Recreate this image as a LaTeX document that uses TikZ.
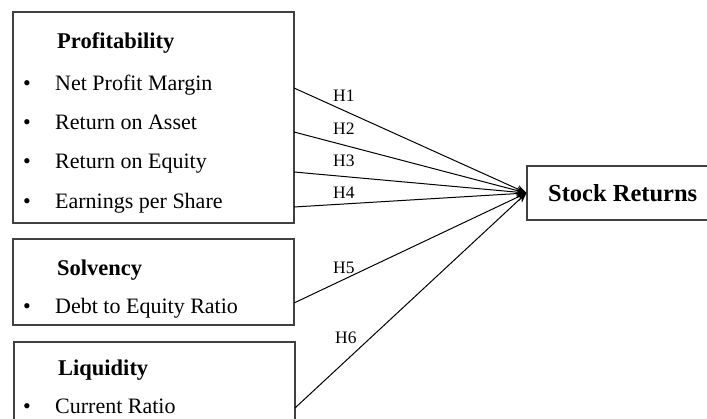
\documentclass[tikz,border=0pt]{standalone}
\usepackage{fontspec}
\setmainfont{Liberation Serif}
\usetikzlibrary{arrows.meta}

\begin{document}
\begin{tikzpicture}[x=1pt,y=-1pt]
    \useasboundingbox (0,0) rectangle (707,419);

    \tikzset{box/.style={draw=black!75,line width=1.1pt,inner sep=0pt},
      head/.style={anchor=base west,inner sep=0pt,font=\fontsize{22.5}{27}\selectfont\bfseries},
      item/.style={anchor=base west,inner sep=0pt,font=\fontsize{22}{26}\selectfont},
      dot/.style={anchor=base,inner sep=0pt,font=\fontsize{22}{26}\selectfont},
      hlab/.style={anchor=base west,inner sep=0pt,font=\fontsize{17.5}{20}\selectfont},
      link/.style={line width=1pt,-{Stealth[length=10pt,width=8pt]}}}

    % boxes
    \node[box,minimum width=281pt,minimum height=211pt](prof) at (153.5,117.5){};
    \node[box,minimum width=281pt,minimum height=86pt](solv) at (153.5,282){};
    \node[box,minimum width=281pt,minimum height=110pt](liq) at (154.5,397){};
    \node[box,minimum width=187pt,minimum height=54pt](stock) at (620.5,193){};

    % texts
    \node[head](t0) at (57,49){Profitability};
    \node[dot](b1) at (27,91){•};
    \node[item](t1) at (55,91){Net Profit Margin};
    \node[dot](b2) at (27,130){•};
    \node[item](t2) at (55,130){Return on Asset};
    \node[dot](b3) at (27,169){•};
    \node[item](t3) at (55,169){Return on Equity};
    \node[dot](b4) at (27,209){•};
    \node[item](t4) at (55,209){Earnings per Share};

    \node[head](s0) at (57,276){Solvency};
    \node[dot](b5) at (27,314){•};
    \node[item](s1) at (55,314){Debt to Equity Ratio};

    \node[head](l0) at (58,376){Liquidity};
    \node[dot](b6) at (27,413.5){•};
    \node[item](l1) at (55,413.5){Current Ratio};

    \node[head,font=\fontsize{24.5}{29}\selectfont\bfseries](st) at (548,202){Stock Returns};

    % line ends on the box sides
    \coordinate (p1) at (294,88);
    \coordinate (p2) at (294,132);
    \coordinate (p3) at (294,172);
    \coordinate (p4) at (294,207);
    \coordinate (p5) at (294,303);
    \coordinate (p6) at (295,408);

    \draw[link](p1)--(stock.west);
    \draw[link](p2)--(stock.west);
    \draw[link](p3)--(stock.west);
    \draw[link](p4)--(stock.west);
    \draw[link](p5)--(stock.west);
    \draw[link](p6)--(stock.west);

    \node[hlab](h1) at (333,101.5){H1};
    \node[hlab](h2) at (333,135){H2};
    \node[hlab](h3) at (333,166.5){H3};
    \node[hlab](h4) at (333,199){H4};
    \node[hlab](h5) at (333,274){H5};
    \node[hlab](h6) at (335,344){H6};

\end{tikzpicture}
\end{document}
